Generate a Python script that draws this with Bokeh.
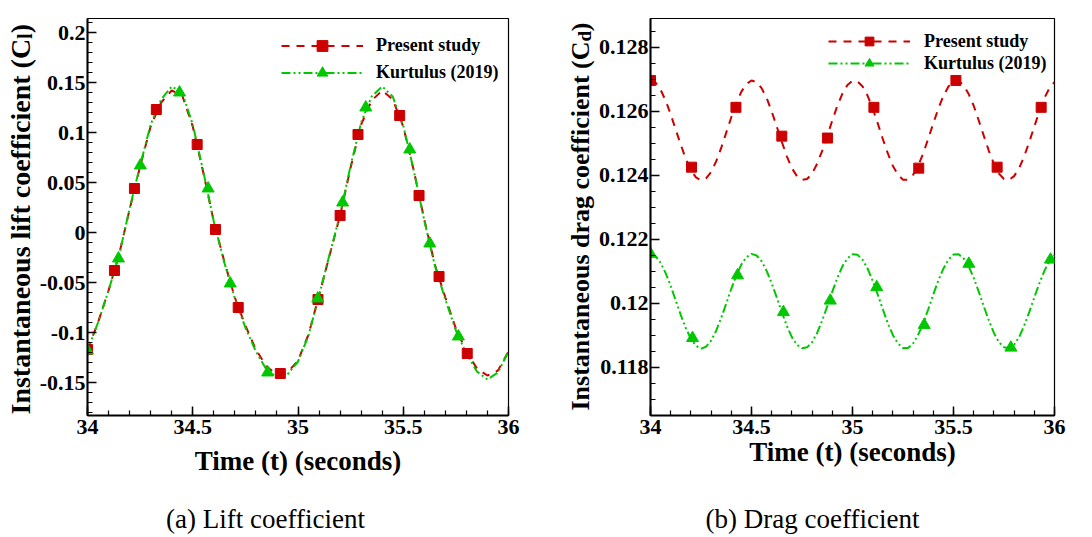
import numpy as np
from math import pi
from bokeh.plotting import figure
from bokeh.models import (Range1d, FixedTicker, CustomJSTickFormatter,
                          Legend, LegendItem)
from bokeh.core.properties import value
from bokeh.layouts import row, column
from bokeh.embed import file_html
from bokeh.resources import INLINE

# ---------------- data: lift coefficient ----------------
lift_t = np.round(np.arange(34.0, 36.0001, 0.05), 3)
lift_present = [-0.117, -0.090, -0.058, -0.022, 0.023, 0.066, 0.106, 0.130, 0.142, 0.137,
                0.106, 0.060, 0.011, -0.029, -0.065, -0.093, -0.117, -0.134, -0.142, -0.140,
                -0.128, -0.102, -0.063, -0.023, 0.017, 0.065, 0.108, 0.132, 0.142, 0.133,
                0.106, 0.062, 0.013, -0.032, -0.065, -0.096, -0.119, -0.136, -0.143, -0.138,
                -0.119]
lift_kurtulus = [-0.118, -0.090, -0.058, -0.023, 0.024, 0.067, 0.108, 0.133, 0.146, 0.140,
                 0.108, 0.061, 0.011, -0.030, -0.066, -0.095, -0.119, -0.137, -0.145, -0.142,
                 -0.129, -0.103, -0.063, -0.022, 0.018, 0.067, 0.110, 0.136, 0.146, 0.136,
                 0.107, 0.062, 0.012, -0.033, -0.067, -0.098, -0.121, -0.139, -0.147, -0.140,
                 -0.119]
lift_present_mk_t = [34.0, 34.128, 34.223, 34.327, 34.521, 34.608, 34.716, 34.916, 35.095,
                     35.20, 35.285, 35.483, 35.575, 35.670, 35.804]
lift_present_mk = [-0.117, -0.038, 0.044, 0.123, 0.088, 0.003, -0.075, -0.141, -0.067,
                   0.017, 0.098, 0.117, 0.037, -0.044, -0.121]
lift_kurt_mk_t = [34.0, 34.147, 34.251, 34.437, 34.573, 34.678, 34.856, 35.094, 35.212,
                  35.322, 35.531, 35.626, 35.762]
lift_kurt_mk = [-0.118, -0.026, 0.067, 0.140, 0.044, -0.051, -0.140, -0.066, 0.030,
                0.125, 0.083, -0.011, -0.104]

# ---------------- data: drag coefficient ----------------
drag_t = np.round(np.arange(34.0, 36.0001, 0.025), 3)
drag_present = [0.12697, 0.12690, 0.12668, 0.12634, 0.12591, 0.12543, 0.12496, 0.12452, 0.12417, 0.12394,
                0.12385, 0.12391, 0.12411, 0.12444, 0.12486, 0.12534, 0.12582, 0.12626, 0.12662, 0.12686,
                0.12697, 0.12692, 0.12673, 0.12642, 0.12600, 0.12553, 0.12505, 0.12460, 0.12423, 0.12398,
                0.12386, 0.12389, 0.12406, 0.12437, 0.12477, 0.12524, 0.12572, 0.12618, 0.12656, 0.12683,
                0.12696, 0.12694, 0.12678, 0.12649, 0.12609, 0.12563, 0.12514, 0.12469, 0.12430, 0.12402,
                0.12387, 0.12387, 0.12402, 0.12430, 0.12469, 0.12515, 0.12563, 0.12609, 0.12649, 0.12678,
                0.12694, 0.12696, 0.12682, 0.12655, 0.12618, 0.12572, 0.12524, 0.12477, 0.12437, 0.12406,
                0.12389, 0.12386, 0.12398, 0.12423, 0.12460, 0.12505, 0.12553, 0.12600, 0.12642, 0.12673,
                0.12692]
drag_kurtulus = [0.12155, 0.12148, 0.12127, 0.12095, 0.12055, 0.12009, 0.11964, 0.11923, 0.11890, 0.11868,
                 0.11859, 0.11865, 0.11884, 0.11915, 0.11955, 0.12000, 0.12046, 0.12088, 0.12122, 0.12145,
                 0.12155, 0.12150, 0.12132, 0.12102, 0.12063, 0.12019, 0.11973, 0.11930, 0.11895, 0.11871,
                 0.11860, 0.11863, 0.11879, 0.11908, 0.11947, 0.11991, 0.12037, 0.12080, 0.12116, 0.12141,
                 0.12154, 0.12152, 0.12137, 0.12109, 0.12071, 0.12028, 0.11982, 0.11938, 0.11901, 0.11875,
                 0.11861, 0.11861, 0.11875, 0.11902, 0.11938, 0.11982, 0.12028, 0.12072, 0.12109, 0.12137,
                 0.12153, 0.12154, 0.12141, 0.12116, 0.12080, 0.12037, 0.11991, 0.11947, 0.11908, 0.11879,
                 0.11863, 0.11860, 0.11871, 0.11895, 0.11931, 0.11973, 0.12019, 0.12063, 0.12102, 0.12133,
                 0.12151]
drag_present_mk_t = [34.0, 34.203, 34.423, 34.650, 34.876, 35.106, 35.328, 35.512, 35.716, 35.934]
drag_present_mk = [0.12697, 0.12426, 0.12613, 0.12523, 0.12517, 0.12613, 0.12423, 0.12697, 0.12426, 0.12613]
drag_kurt_mk_t = [34.0, 34.208, 34.431, 34.658, 34.89, 35.12, 35.355, 35.576, 35.784, 35.98]
drag_kurt_mk = [0.12155, 0.11892, 0.12088, 0.11973, 0.12009, 0.12051, 0.11933, 0.12124, 0.11862, 0.12137]

# tick positions
time_ticks = [34, 34.5, 35, 35.5, 36]
lift_ticks = [-0.15, -0.1, -0.05, 0, 0.05, 0.1, 0.15, 0.2]
drag_ticks = [0.118, 0.12, 0.122, 0.124, 0.126, 0.128]

RED = "#cc0000"
GREEN = "#00c800"
FONT = "Liberation Serif"
PAGE_H = 537
TOP_H = 505          # row holding the two plots (frames aligned by Bokeh)
CAP_H = PAGE_H - TOP_H
B_TOP = 18           # common top border of every figure in the row
B_BOT = 90           # common bottom border of every figure in the row
fmt = CustomJSTickFormatter(code="return parseFloat(tick.toFixed(4)).toString();")


def blank_fig(w, h, bt=0, bb=0, yr=None):
    f = figure(width=w, height=h, x_range=Range1d(0, w),
               y_range=Range1d(*(yr if yr else (0, h))),
               output_backend="svg", toolbar_location=None, min_border=0,
               min_border_top=bt, min_border_bottom=bb)
    f.title = None
    f.axis.visible = False
    f.grid.visible = False
    f.outline_line_color = None
    f.border_fill_color = "white"
    f.background_fill_color = "white"
    return f


def make_fig(yr, yticks, yminor, w, bl, br, label_standoff):
    p = figure(width=w, height=TOP_H, x_range=Range1d(34, 36), y_range=Range1d(*yr),
               output_backend="svg", toolbar_location=None,
               min_border_left=bl, min_border_top=B_TOP, min_border_bottom=B_BOT,
               min_border_right=br)
    p.title = None
    p.grid.visible = False
    p.outline_line_color = "black"
    p.outline_line_width = 1.2
    p.background_fill_color = "white"
    p.border_fill_color = "white"
    p.xaxis.ticker = FixedTicker(ticks=time_ticks,
                                 minor_ticks=list(np.round(np.arange(34.0, 36.0001, 0.1), 2)))
    p.yaxis.ticker = FixedTicker(ticks=yticks, minor_ticks=yminor)
    for ax in (p.xaxis[0], p.yaxis[0]):
        ax.formatter = fmt
        ax.axis_line_width = 2
        ax.axis_line_color = "black"
        ax.major_tick_in = 9
        ax.major_tick_out = 0
        ax.minor_tick_in = 5
        ax.minor_tick_out = 0
        ax.major_tick_line_width = 1.5
        ax.minor_tick_line_width = 1.2
        ax.major_label_text_font = FONT
        ax.major_label_text_font_style = "bold"
        ax.major_label_text_font_size = "22px"
        ax.major_label_text_color = "black"
    p.yaxis.major_label_standoff = 2
    p.xaxis.major_label_standoff = 4
    p.xaxis.axis_label = "Time (t) (seconds)"
    p.xaxis.axis_label_text_font = FONT
    p.xaxis.axis_label_text_font_style = "bold"
    p.xaxis.axis_label_text_font_size = "27px"
    p.xaxis.axis_label_text_color = "black"
    p.xaxis.axis_label_standoff = label_standoff
    return p


def add_series(p, t, y_p, y_k, mt_p, m_p, mt_k, m_k, loc, gh, standoff):
    lp = p.line(t, y_p, line_color=RED, line_width=2, line_dash="8 7")
    lk = p.line(t, y_k, line_color=GREEN, line_width=2, line_dash="9 3 2 3 2 3")
    sp = p.scatter(mt_p, m_p, marker="square", size=10, fill_color=RED, line_color=RED)
    sk = p.scatter(mt_k, m_k, marker="triangle", size=12, fill_color=GREEN, line_color=GREEN)
    leg = Legend(items=[LegendItem(label="Present study", renderers=[lp, sp]),
                        LegendItem(label="Kurtulus (2019)", renderers=[lk, sk])],
                 location=loc, glyph_width=82, glyph_height=gh, label_height=gh,
                 label_standoff=standoff, padding=0, spacing=0, margin=0,
                 border_line_alpha=0, background_fill_alpha=0,
                 label_text_font=FONT, label_text_font_style="bold",
                 label_text_font_size="18px", label_text_color="black")
    p.add_layout(leg)


def ylabel_fig(w, main, sub, size, sub_size, xm, ym, xs, ys, yc):
    # narrow strip holding the vertical axis title (with a real-text subscript);
    # its y data coordinate is (page height - page y)
    f = blank_fig(w, TOP_H, B_TOP, B_BOT,
                  yr=(PAGE_H - (TOP_H - B_BOT), PAGE_H - B_TOP))
    common = dict(angle=pi / 2, text_align="center", text_baseline="middle",
                  text_font=value(FONT), text_font_style="bold", text_color="black")
    f.text(x=[xm, xm], y=[ym, yc], text=[main, ")"], text_font_size=size, **common)
    f.text(x=[xs], y=[ys], text=[sub], text_font_size=sub_size, **common)
    return f


def caption_fig(w, text, xc, yc):
    f = blank_fig(w, CAP_H)
    f.text(x=[xc], y=[yc], text=[text], text_align="center", text_baseline="middle",
           text_font=value(FONT), text_font_style="normal", text_font_size="27px",
           text_color="black")
    return f


# ---------------- (a) lift ----------------
p1 = make_fig((-0.183, 0.214), lift_ticks,
              list(np.round(np.arange(-0.18, 0.2101, 0.01), 3)),
              510, 50, 38, 9)
add_series(p1, lift_t, lift_present, lift_kurtulus, lift_present_mk_t, lift_present_mk,
           lift_kurt_mk_t, lift_kurt_mk, (194, 329), 27, 13)
la = ylabel_fig(36, "Instantaneous lift coefficient (C", "l", "28px", "20px",
                19.5, 310.8, 24.5, 501.4, 508.9)
ca = caption_fig(546, "(a) Lift coefficient", 265, 19)

# ---------------- (b) drag ----------------
p2 = make_fig((0.1165, 0.128906), drag_ticks,
              list(np.round(np.arange(0.1165, 0.12851, 0.0005), 5)),
              497, 55, 38, 0)
add_series(p2, drag_t, drag_present, drag_kurtulus, drag_present_mk_t, drag_present_mk,
           drag_kurt_mk_t, drag_kurt_mk, (178, 341), 22, 14)
lb = ylabel_fig(49, "Instantaneous drag coefficient (C", "d", "26px", "19px",
                33.5, 311.5, 38, 501.2, 510.6)
cb = caption_fig(546, "(b) Drag coefficient", 266, 19)

layout = column(row(la, p1, lb, p2, spacing=0), row(ca, cb, spacing=0), spacing=0)
open("out.html", "w").write(file_html(layout, INLINE))
